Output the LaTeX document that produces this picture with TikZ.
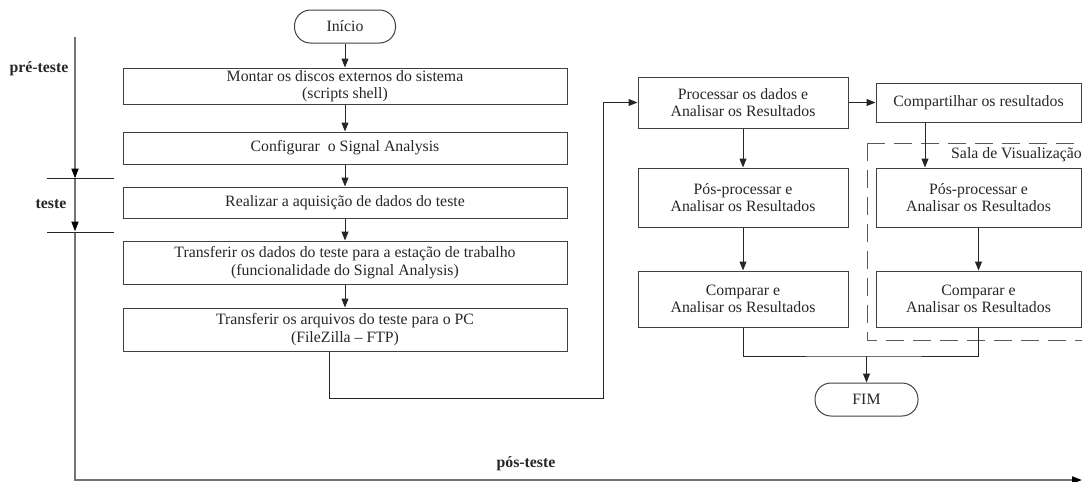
\documentclass[tikz,border=0pt]{standalone}
\usepackage{fontspec}
\setmainfont{Liberation Serif}
\usetikzlibrary{arrows.meta}
\begin{document}
\begin{tikzpicture}[x=1pt,y=-1pt,
  txt/.style={font=\fontsize{15.8}{17.5}\selectfont, text=black!85},
  box/.style={txt, draw=black!75, line width=1pt, align=center, inner sep=0pt},
  term/.style={txt, draw=black!75, line width=1pt, rounded corners=16pt, inner sep=0pt, minimum height=33pt},
  flow/.style={draw=black!85, line width=1pt, -{Triangle[length=9pt,width=7pt]}},
  plain/.style={draw=black!85, line width=1pt},
  axis/.style={draw=black!55, line width=1.8pt},
  axisarrow/.style={axis, -{Triangle[length=10pt,width=7pt,color=black]}},
  phase/.style={font=\fontsize{15.8}{17.5}\selectfont\bfseries, text=black!85, inner sep=0pt},
  zone/.style={draw=black!65, line width=1pt, dash pattern=on 18pt off 9pt}
]
\clip (0,0) rectangle (1082,482);

% left column
\node[term, minimum width=101pt] (start) at (345,26.5) {Início};
\node[box, minimum width=444pt, minimum height=36pt] (b1) at (345,86) {Montar os discos externos do sistema\\(scripts shell)};
\node[box, minimum width=444pt, minimum height=32pt] (b2) at (345,148) {Configurar\ \ o Signal Analysis};
\node[box, minimum width=444pt, minimum height=31pt] (b3) at (345,202.5) {Realizar a aquisição de dados do teste};
\node[box, minimum width=444pt, minimum height=43pt] (b4) at (345,262.5) {Transferir os dados do teste para a estação de trabalho\\(funcionalidade do Signal Analysis)};
\node[box, minimum width=444pt, minimum height=43pt] (b5) at (345,329.5) {Transferir os arquivos do teste para o PC\\(FileZilla -- FTP)};

% right part
\node[box, minimum width=210pt, minimum height=51pt] (p1) at (743,102.5) {Processar os dados e\\Analisar os Resultados};
\node[box, minimum width=205pt, minimum height=39pt] (c1) at (978.5,102.5) {Compartilhar os resultados};
\node[box, minimum width=210pt, minimum height=59pt] (pp1) at (743,197.5) {Pós-processar e\\Analisar os Resultados};
\node[box, minimum width=205pt, minimum height=59pt] (pp2) at (978.5,197.5) {Pós-processar e\\Analisar os Resultados};
\node[box, minimum width=210pt, minimum height=56pt] (cp1) at (743,299) {Comparar e\\Analisar os Resultados};
\node[box, minimum width=205pt, minimum height=56pt] (cp2) at (978.5,299) {Comparar e\\Analisar os Resultados};
\node[term, minimum width=103pt] (fim) at (866.5,399.5) {FIM};

% dashed zone
\draw[zone] (867,143) -- (1100,143);
\draw[zone] (867,143) -- (867,340) -- (1100,340);
\node[txt, anchor=west, inner sep=0pt] (sala) at (951,155) {Sala de Visualização};

% connectors
\draw[flow] (start) -- (b1);
\draw[flow] (b1) -- (b2);
\draw[flow] (b2) -- (b3);
\draw[flow] (b3) -- (b4);
\draw[flow] (b4) -- (b5);
\coordinate (r2) at (603,398);
\draw[flow] ([xshift=-16pt]b5.south) |- (r2) |- (p1.west);
\draw[flow] (p1) -- (c1);
\draw[flow] ([xshift=-53.5pt]c1.south) -- ([xshift=-53.5pt]pp2.north);
\draw[flow] (p1) -- (pp1);
\draw[flow] (pp1) -- (cp1);
\draw[flow] (pp2) -- (cp2);
\coordinate (j) at (866.5,356);
\draw[plain] (cp1.south) |- (j) -| (cp2.south);
\draw[flow] (j) -- (fim);

% phase axis
\coordinate (a0) at (75,37);
\coordinate (m1) at (75,178.5);
\coordinate (m2) at (75,231.5);
\coordinate (a1) at (75,480);
\coordinate (a2) at (1082,480);
\draw[axisarrow] (a0) -- (m1);
\draw[axisarrow] (m1) -- (m2);
\draw[axisarrow] (m2) -- (a1) -- (a2);
\coordinate (t1a) at (47,178);
\coordinate (t1b) at (114,178);
\coordinate (t2a) at (47,232);
\coordinate (t2b) at (114,232);
\draw[plain] (t1a) -- (t1b);
\draw[plain] (t2a) -- (t2b);

\node[phase] (lpre) at (39,69) {pré-teste};
\node[phase] (lte) at (51,204) {teste};
\node[phase] (lpos) at (526,464) {pós-teste};
\end{tikzpicture}
\end{document}
